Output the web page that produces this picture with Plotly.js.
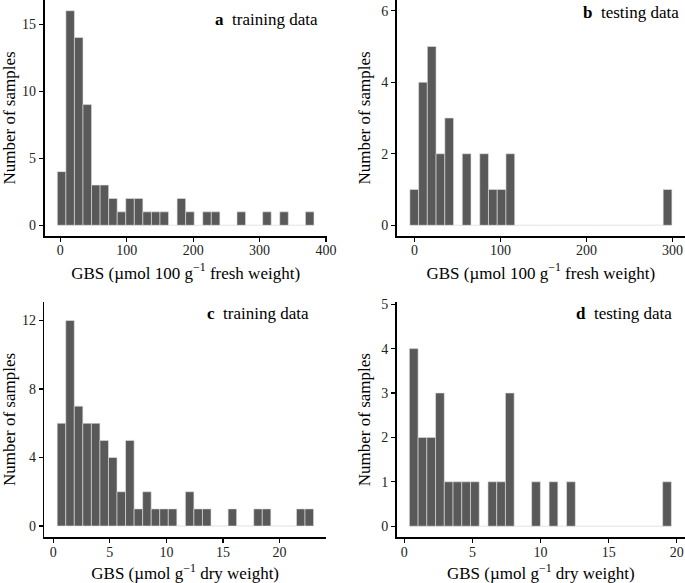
<!DOCTYPE html>
<html>
<head>
<meta charset="utf-8">
<script src="https://cdn.plot.ly/plotly-3.0.1.min.js"></script>
<style>html,body{margin:0;padding:0;background:#fff}#chart{width:685px;height:583px}</style>
</head>
<body>
<div id="chart"></div>
<script>
// 30-bin histograms (counts per bin), bin start and bin width per panel
const countsA = [4,16,14,9,3,3,2,1,2,2,1,1,1,0,2,1,0,1,1,0,0,1,0,0,1,0,1,0,0,1];
const startA = -4.5, widthA = 12.88;
const countsB = [1,4,5,2,3,0,2,0,2,1,1,2,0,0,0,0,0,0,0,0,0,0,0,0,0,0,0,0,0,1];
const startB = -5.3, widthB = 10.15;
const countsC = [6,12,7,6,6,5,4,2,5,1,2,1,1,1,0,2,1,1,0,0,1,0,0,1,1,0,0,0,1,1];
const startC = 0.35, widthC = 0.755;
const countsD = [4,2,2,3,1,1,1,1,0,1,1,3,0,0,1,0,1,0,1,0,0,0,0,0,0,0,0,0,0,1];
const startD = 0.37, widthD = 0.641;

const ticksA = [0,100,200,300,400], yticksA = [0,5,10,15];
const ticksB = [0,100,200,300], yticksB = [0,2,4,6];
const ticksC = [0,5,10,15,20], yticksC = [0,4,8,12];
const ticksD = [0,5,10,15,20], yticksD = [0,1,2,3,4,5];

const titleFresh = 'GBS (\u00b5mol 100 g<sup>\u22121</sup> fresh weight)';
const titleDry = 'GBS (\u00b5mol g<sup>\u22121</sup> dry weight)';
const yTitle = 'Number of samples';
const labels = [['a','training data'],['b','testing data'],['c','training data'],['d','testing data']];

const FONT = 'Liberation Serif, Times New Roman, serif';
const BAR = '#595959';

function centers(n, start, w){ const c=[]; for(let i=0;i<n;i++) c.push(start + (i+0.5)*w); return c; }
function barTrace(counts, start, w, xa, ya){
  return {type:'bar', x:centers(counts.length,start,w), y:counts, width:w,
    xaxis:xa, yaxis:ya, marker:{color:BAR, line:{color:'#e3e3e3', width:0.6}},
    hoverinfo:'x+y', showlegend:false};
}
const data = [
  barTrace(countsA,startA,widthA,'x','y'),
  barTrace(countsB,startB,widthB,'x2','y2'),
  barTrace(countsC,startC,widthC,'x3','y3'),
  barTrace(countsD,startD,widthD,'x4','y4')
];
function xax(dom, range, ticks, title, anchor){
  return {domain:dom, range:range, anchor:anchor, tickmode:'array', tickvals:ticks,
    ticks:'outside', ticklen:4, tickwidth:1.2, tickcolor:'#000', showline:true, linecolor:'#000', linewidth:1.6,
    ticklabelstandoff:-3,
    showgrid:false, zeroline:false, tickfont:{family:FONT,size:14,color:'#222'},
    title:{text:title, font:{family:FONT,size:17,color:'#000'}, standoff:9}};
}
function yax(dom, range, ticks, anchor){
  return {domain:dom, range:range, anchor:anchor, tickmode:'array', tickvals:ticks,
    ticks:'outside', ticklen:4, tickwidth:1.2, tickcolor:'#000', showline:true, linecolor:'#000', linewidth:1.6,
    showgrid:false, zeroline:false, tickfont:{family:FONT,size:14,color:'#222'},
    title:{text:yTitle, font:{family:FONT,size:17,color:'#000'}, standoff:6}};
}
const W=685, H=583;
const fx = p => p/W, fy = p => 1 - p/H;
const annots = [];
const pos = [[320,19],[681,12],[311,314],[674,313]];
labels.forEach((l,i)=>{
  annots.push({xref:'paper', yref:'paper', x:fx(pos[i][0]), y:fy(pos[i][1]), xanchor:'right', yanchor:'middle',
    text:'<b>'+l[0]+'</b>\u00a0\u00a0'+l[1], showarrow:false, font:{family:FONT,size:17,color:'#000'}});
});
const layout = {
  width:W, height:H, margin:{l:0,r:0,t:0,b:0}, paper_bgcolor:'#fff', plot_bgcolor:'rgba(0,0,0,0)',
  bargap:0, showlegend:false,
  xaxis: xax([fx(44.5),fx(326.8)],[-23.8,401.2],ticksA,titleFresh,'y'),
  yaxis: yax([fy(236),fy(0)],[-0.8,16.8],yticksA,'x'),
  xaxis2: xax([fx(396.7),1],[-20.6,314.4],ticksB,titleFresh,'y2'),
  yaxis2: yax([fy(236),fy(0)],[-0.3,6.3],yticksB,'x2'),
  xaxis3: xax([fx(44.3),fx(326)],[-0.79,24.1],ticksC,titleDry,'y3'),
  yaxis3: yax([fy(537.3),fy(301.7)],[-0.66,13.1],yticksC,'x3'),
  xaxis4: xax([fx(396.7),1],[-0.56,20.6],ticksD,titleDry,'y4'),
  yaxis4: yax([fy(537.3),fy(302)],[-0.25,5.05],yticksD,'x4'),
  annotations: annots
};
Plotly.newPlot('chart', data, layout, {displayModeBar:false, staticPlot:true});
</script>
</body>
</html>
